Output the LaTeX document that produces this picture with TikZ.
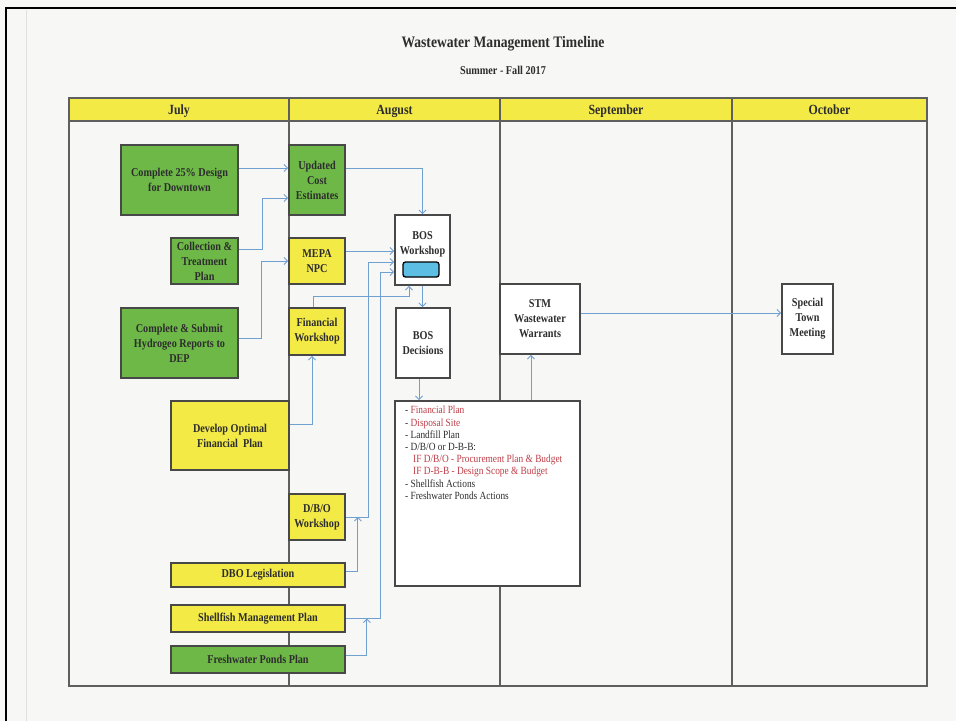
\documentclass[tikz,border=0pt]{standalone}
\usepackage{fontspec}
\setmainfont{Liberation Serif}
\newfontfamily\cond[FakeStretch=0.85]{Liberation Serif}
\usetikzlibrary{arrows.meta}
\definecolor{bg}{RGB}{247,247,245}
\definecolor{yel}{RGB}{243,234,70}
\definecolor{grn}{RGB}{110,184,72}
\definecolor{edge}{RGB}{72,72,72}
\definecolor{gridc}{RGB}{95,95,95}
\definecolor{arrc}{RGB}{112,160,208}
\definecolor{txt}{RGB}{45,45,45}
\definecolor{redt}{RGB}{190,62,72}
\definecolor{cyanbox}{RGB}{92,190,226}
\begin{document}
\begin{tikzpicture}[x=1pt,y=-1pt,
  bx/.style={draw=edge, line width=1.8pt, inner sep=1pt, align=center,
    font=\cond\bfseries\fontsize{12}{15}\selectfont, text=txt},
  hdr/.style={draw=gridc, line width=1pt, fill=yel, inner sep=0pt, minimum height=23pt,
    text height=12.5pt, text depth=2pt,
    font=\cond\bfseries\fontsize{14}{16}\selectfont, text=txt},
  arr/.style={draw=arrc, line width=0.9pt, -{Straight Barb[length=3.5pt,width=7pt]}},
  ln/.style={draw=arrc, line width=0.9pt}]
\fill[bg] (0,0) rectangle (956,721);
\useasboundingbox (0,0) rectangle (956,721);
% scan frame
\draw[black!12, line width=0.8pt] (26,10) -- (26,721);
\draw[black, line width=2.5pt] (6,721) -- (6,8) -- (956,8);

% titles
\node[font=\cond\bfseries\fontsize{16}{18}\selectfont, text=txt] (title) at (503,44) {Wastewater Management Timeline};
\node[font=\cond\bfseries\fontsize{12}{14}\selectfont, text=txt] (sub) at (503,70) {Summer - Fall 2017};

% header
\node[hdr, minimum width=220pt] (hjul) at (179,109.5) {July};
\node[hdr, minimum width=211pt] (haug) at (394.5,109.5) {August};
\node[hdr, minimum width=232pt] (hsep) at (616,109.5) {September};
\node[hdr, minimum width=195pt] (hoct) at (829.5,109.5) {October};

% grid
\draw[gridc, line width=1.2pt] (289,98) -- (289,686);
\draw[gridc, line width=1.2pt] (500,98) -- (500,686);
\draw[gridc, line width=1.2pt] (732,98) -- (732,686);
\draw[gridc, line width=1.2pt] (69,121) -- (927,121);
\draw[gridc, line width=2pt] (69,98) rectangle (927,686);

% boxes
\node[bx, fill=grn, minimum width=117pt, minimum height=70pt] (c25) at (179.5,180) {Complete 25\% Design\\for Downtown};
\node[bx, fill=grn, minimum width=56pt, minimum height=70pt] (uce) at (317,180) {Updated\\Cost\\Estimates};
\node[bx, fill=grn, minimum width=67pt, minimum height=46pt] (ct) at (204.5,261) {Collection \&\\Treatment\\Plan};
\node[bx, fill=yel, minimum width=56pt, minimum height=46pt] (mepa) at (317,261) {MEPA\\NPC};
\node[bx, fill=grn, minimum width=117pt, minimum height=70pt] (hyd) at (179.5,343) {Complete \& Submit\\Hydrogeo Reports to\\DEP};
\node[bx, fill=yel, minimum width=56pt, minimum height=47pt] (finw) at (317,331.5) {Financial\\Workshop};
\node[bx, fill=white, minimum width=55pt, minimum height=70pt] (bosw) at (422.5,250) {};
\node[bx, draw=none, fill=none] (boswt) at (422.5,244) {BOS\\Workshop};
\node[draw=black, line width=1.3pt, fill=cyanbox, rounded corners=2.5pt, minimum width=36pt, minimum height=15pt, inner sep=0pt] (blue) at (421,269.5) {};
\node[bx, fill=white, minimum width=54pt, minimum height=70pt] (bosd) at (423,343) {BOS\\Decisions};
\node[bx, fill=white, minimum width=80pt, minimum height=70pt] (stm) at (540,319) {STM\\Wastewater\\Warrants};
\node[bx, fill=white, minimum width=51pt, minimum height=70pt] (stmt) at (807.5,319) {Special\\Town\\Meeting};
\node[bx, fill=yel, minimum width=118pt, minimum height=69pt] (dof) at (230,435.5) {Develop Optimal\\Financial\ \ Plan};
\node[bx, fill=yel, minimum width=56pt, minimum height=46pt] (dbow) at (317,517) {D/B/O\\Workshop};
\node[bx, fill=yel, minimum width=174pt, minimum height=24pt] (dbl) at (258,575) {DBO Legislation};
\node[bx, fill=yel, minimum width=174pt, minimum height=27pt] (shp) at (258,618.5) {Shellfish Management Plan};
\node[bx, fill=grn, minimum width=174pt, minimum height=27pt] (fpp) at (258,659.5) {Freshwater Ponds Plan};
\node[bx, fill=white, minimum width=185pt, minimum height=185pt] (lst) at (487.5,493.5) {};
\node[anchor=north west, inner sep=0pt, align=left, font=\cond\fontsize{11}{12.2}\selectfont, text=txt] (lsttxt) at (405,406) {%
- \textcolor{redt}{Financial Plan}\\
- \textcolor{redt}{Disposal Site}\\
- Landfill Plan\\
- D/B/O or D-B-B:\\
\hspace*{8pt}\textcolor{redt}{IF D/B/O - Procurement Plan \& Budget}\\
\hspace*{8pt}\textcolor{redt}{IF D-B-B - Design Scope \& Budget}\\
- Shellfish Actions\\
- Freshwater Ponds Actions};

% junction points
\coordinate (j1) at ([xshift=12pt]dbow.east);
\coordinate (j2) at ([xshift=21pt]shp.east);

% connectors
\draw[arr] ([yshift=12pt]c25.east) -- ([yshift=12pt]uce.west);
\draw[arr] ([yshift=12pt]ct.east) -- ++(24,0) |- ([yshift=-18pt]uce.west);
\draw[arr] ([yshift=5pt]hyd.east) -- ++(23,0) |- (mepa.west);
\draw[arr] ([yshift=12pt]uce.east) -| (bosw.north);
\draw[arr] ([yshift=10pt]mepa.east) -- ([yshift=10pt]mepa.east -| bosw.west);
\draw[arr] ([xshift=-4pt]finw.north) -- ++(0,-11) -| ([xshift=-13.5pt]bosw.south);
\draw[arr] ([yshift=11.5pt]dof.east) -| ([xshift=-5pt]finw.south);
\draw[arr] (dbow.east) -- ++(23,0) |- ([yshift=-12pt]bosw.west);
\draw[arr] ([yshift=4pt]dbl.east) -| (j1);
\draw[arr] (shp.east) -- ++(35,0) |- ([yshift=-22pt]bosw.west);
\draw[arr] ([yshift=4.5pt]fpp.east) -| (j2);
\draw[arr] (bosw.south) -- (bosw.south |- bosd.north);
\draw[arr] ([xshift=-4pt]bosd.south) -- ([xshift=-4pt]bosd.south |- lst.north);
\draw[arr] ([xshift=-9pt]stm.south |- lst.north) -- ([xshift=-9pt]stm.south);
\draw[arr] ([yshift=6pt]stm.east) -- ([yshift=6pt]stm.east -| stmt.west);
\end{tikzpicture}
\end{document}
